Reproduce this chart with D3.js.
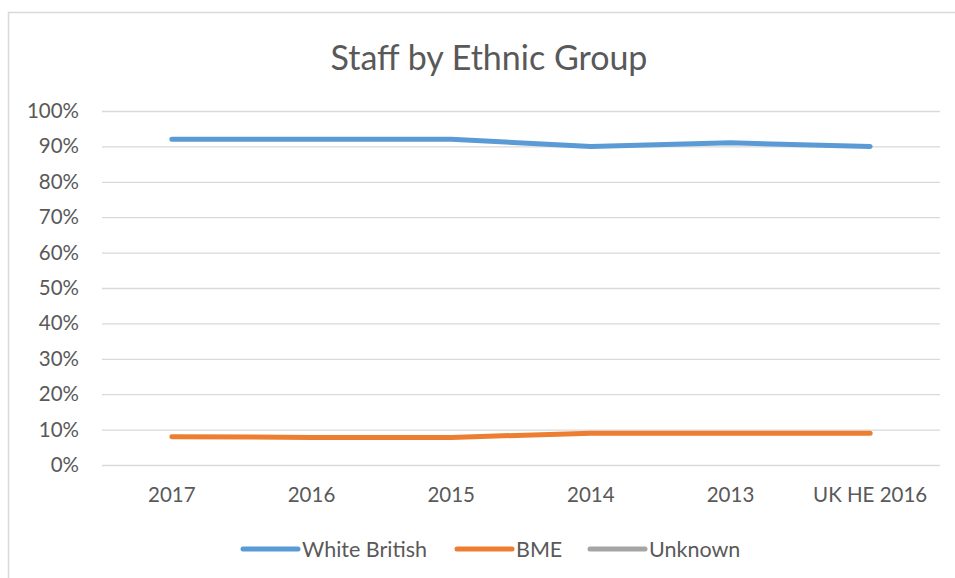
<!DOCTYPE html>
<html>
<head>
<meta charset="utf-8">
<script src="https://cdn.jsdelivr.net/npm/d3@7"></script>
<style>
  html, body { margin: 0; padding: 0; background: #fff; }
  svg { display: block; font-family: Lato, "Liberation Sans", sans-serif; }
</style>
</head>
<body>
<svg id="chart" width="955" height="578"></svg>
<script>
// Staff share by ethnic group, per year
const categories = ["2017", "2016", "2015", "2014", "2013", "UK HE 2016"];
const whiteBritish = [0.92, 0.92, 0.92, 0.90, 0.91, 0.90];
const bme = [0.08, 0.078, 0.078, 0.09, 0.09, 0.09];
const unknown = [null, null, null, null, null, null];
const yTicks = [0, 0.1, 0.2, 0.3, 0.4, 0.5, 0.6, 0.7, 0.8, 0.9, 1.0];

const seriesNames = ["White British", "BME", "Unknown"];
const seriesColors = ["#5B9BD5", "#ED7D31", "#A5A5A5"];
const series = [whiteBritish, bme, unknown];

const svg = d3.select("#chart");
const W = 955, H = 578;
const plot = { left: 102, right: 940, top: 111, bottom: 465 };
const textColor = "#595959";

// chart frame (top and left edges)
svg.append("path")
  .attr("d", `M8.5,${H} V12.5 H${W}`)
  .attr("fill", "none")
  .attr("stroke", "#D9D9D9")
  .attr("stroke-width", 1.5);

// title
svg.append("text")
  .attr("x", 489).attr("y", 70)
  .attr("text-anchor", "middle")
  .attr("fill", textColor)
  .attr("font-size", 34)
  .text("Staff by Ethnic Group");

const x = d3.scaleBand().domain(categories).range([plot.left, plot.right]);
const y = d3.scaleLinear().domain([0, 1]).range([plot.bottom, plot.top]);

// horizontal gridlines and percentage labels
const yAxis = d3.axisLeft(y)
  .tickValues(yTicks)
  .tickFormat(d3.format(".0%"))
  .tickSize(-(plot.right - plot.left))
  .tickPadding(23);
const gy = svg.append("g")
  .attr("transform", `translate(${plot.left},0)`)
  .call(yAxis);
gy.select(".domain").remove();
gy.selectAll(".tick line").attr("stroke", "#D9D9D9").attr("stroke-width", 1.3);
gy.selectAll(".tick text")
  .attr("fill", textColor)
  .attr("font-size", 20.5)
  .attr("font-family", "Lato, sans-serif");

// category labels
const xAxis = d3.axisBottom(x).tickSize(0).tickPadding(22);
const gx = svg.append("g")
  .attr("transform", `translate(0,${plot.bottom})`)
  .call(xAxis);
gx.select(".domain").remove();
gx.selectAll(".tick text")
  .attr("fill", textColor)
  .attr("font-size", 20.5)
  .attr("font-family", "Lato, sans-serif");

// series lines
const line = d3.line()
  .defined(d => d != null)
  .x((d, i) => x(categories[i]) + x.bandwidth() / 2)
  .y(d => y(d));

svg.append("g").selectAll("path")
  .data(series)
  .join("path")
  .attr("d", d => line(d))
  .attr("fill", "none")
  .attr("stroke", (d, i) => seriesColors[i])
  .attr("stroke-width", 5)
  .attr("stroke-linecap", "round")
  .attr("stroke-linejoin", "round");

// legend
const legendItems = [
  { x: 243, text: seriesNames[0], color: seriesColors[0] },
  { x: 457, text: seriesNames[1], color: seriesColors[1] },
  { x: 590, text: seriesNames[2], color: seriesColors[2] }
];
const legendY = 549;
const lg = svg.append("g").selectAll("g")
  .data(legendItems)
  .join("g")
  .attr("transform", d => `translate(${d.x},${legendY})`);
lg.append("line")
  .attr("x1", 0).attr("x2", 55)
  .attr("stroke", d => d.color)
  .attr("stroke-width", 5)
  .attr("stroke-linecap", "round");
lg.append("text")
  .attr("x", 59).attr("y", 7.5)
  .attr("fill", textColor)
  .attr("font-size", 21.5)
  .text(d => d.text);
</script>
</body>
</html>
